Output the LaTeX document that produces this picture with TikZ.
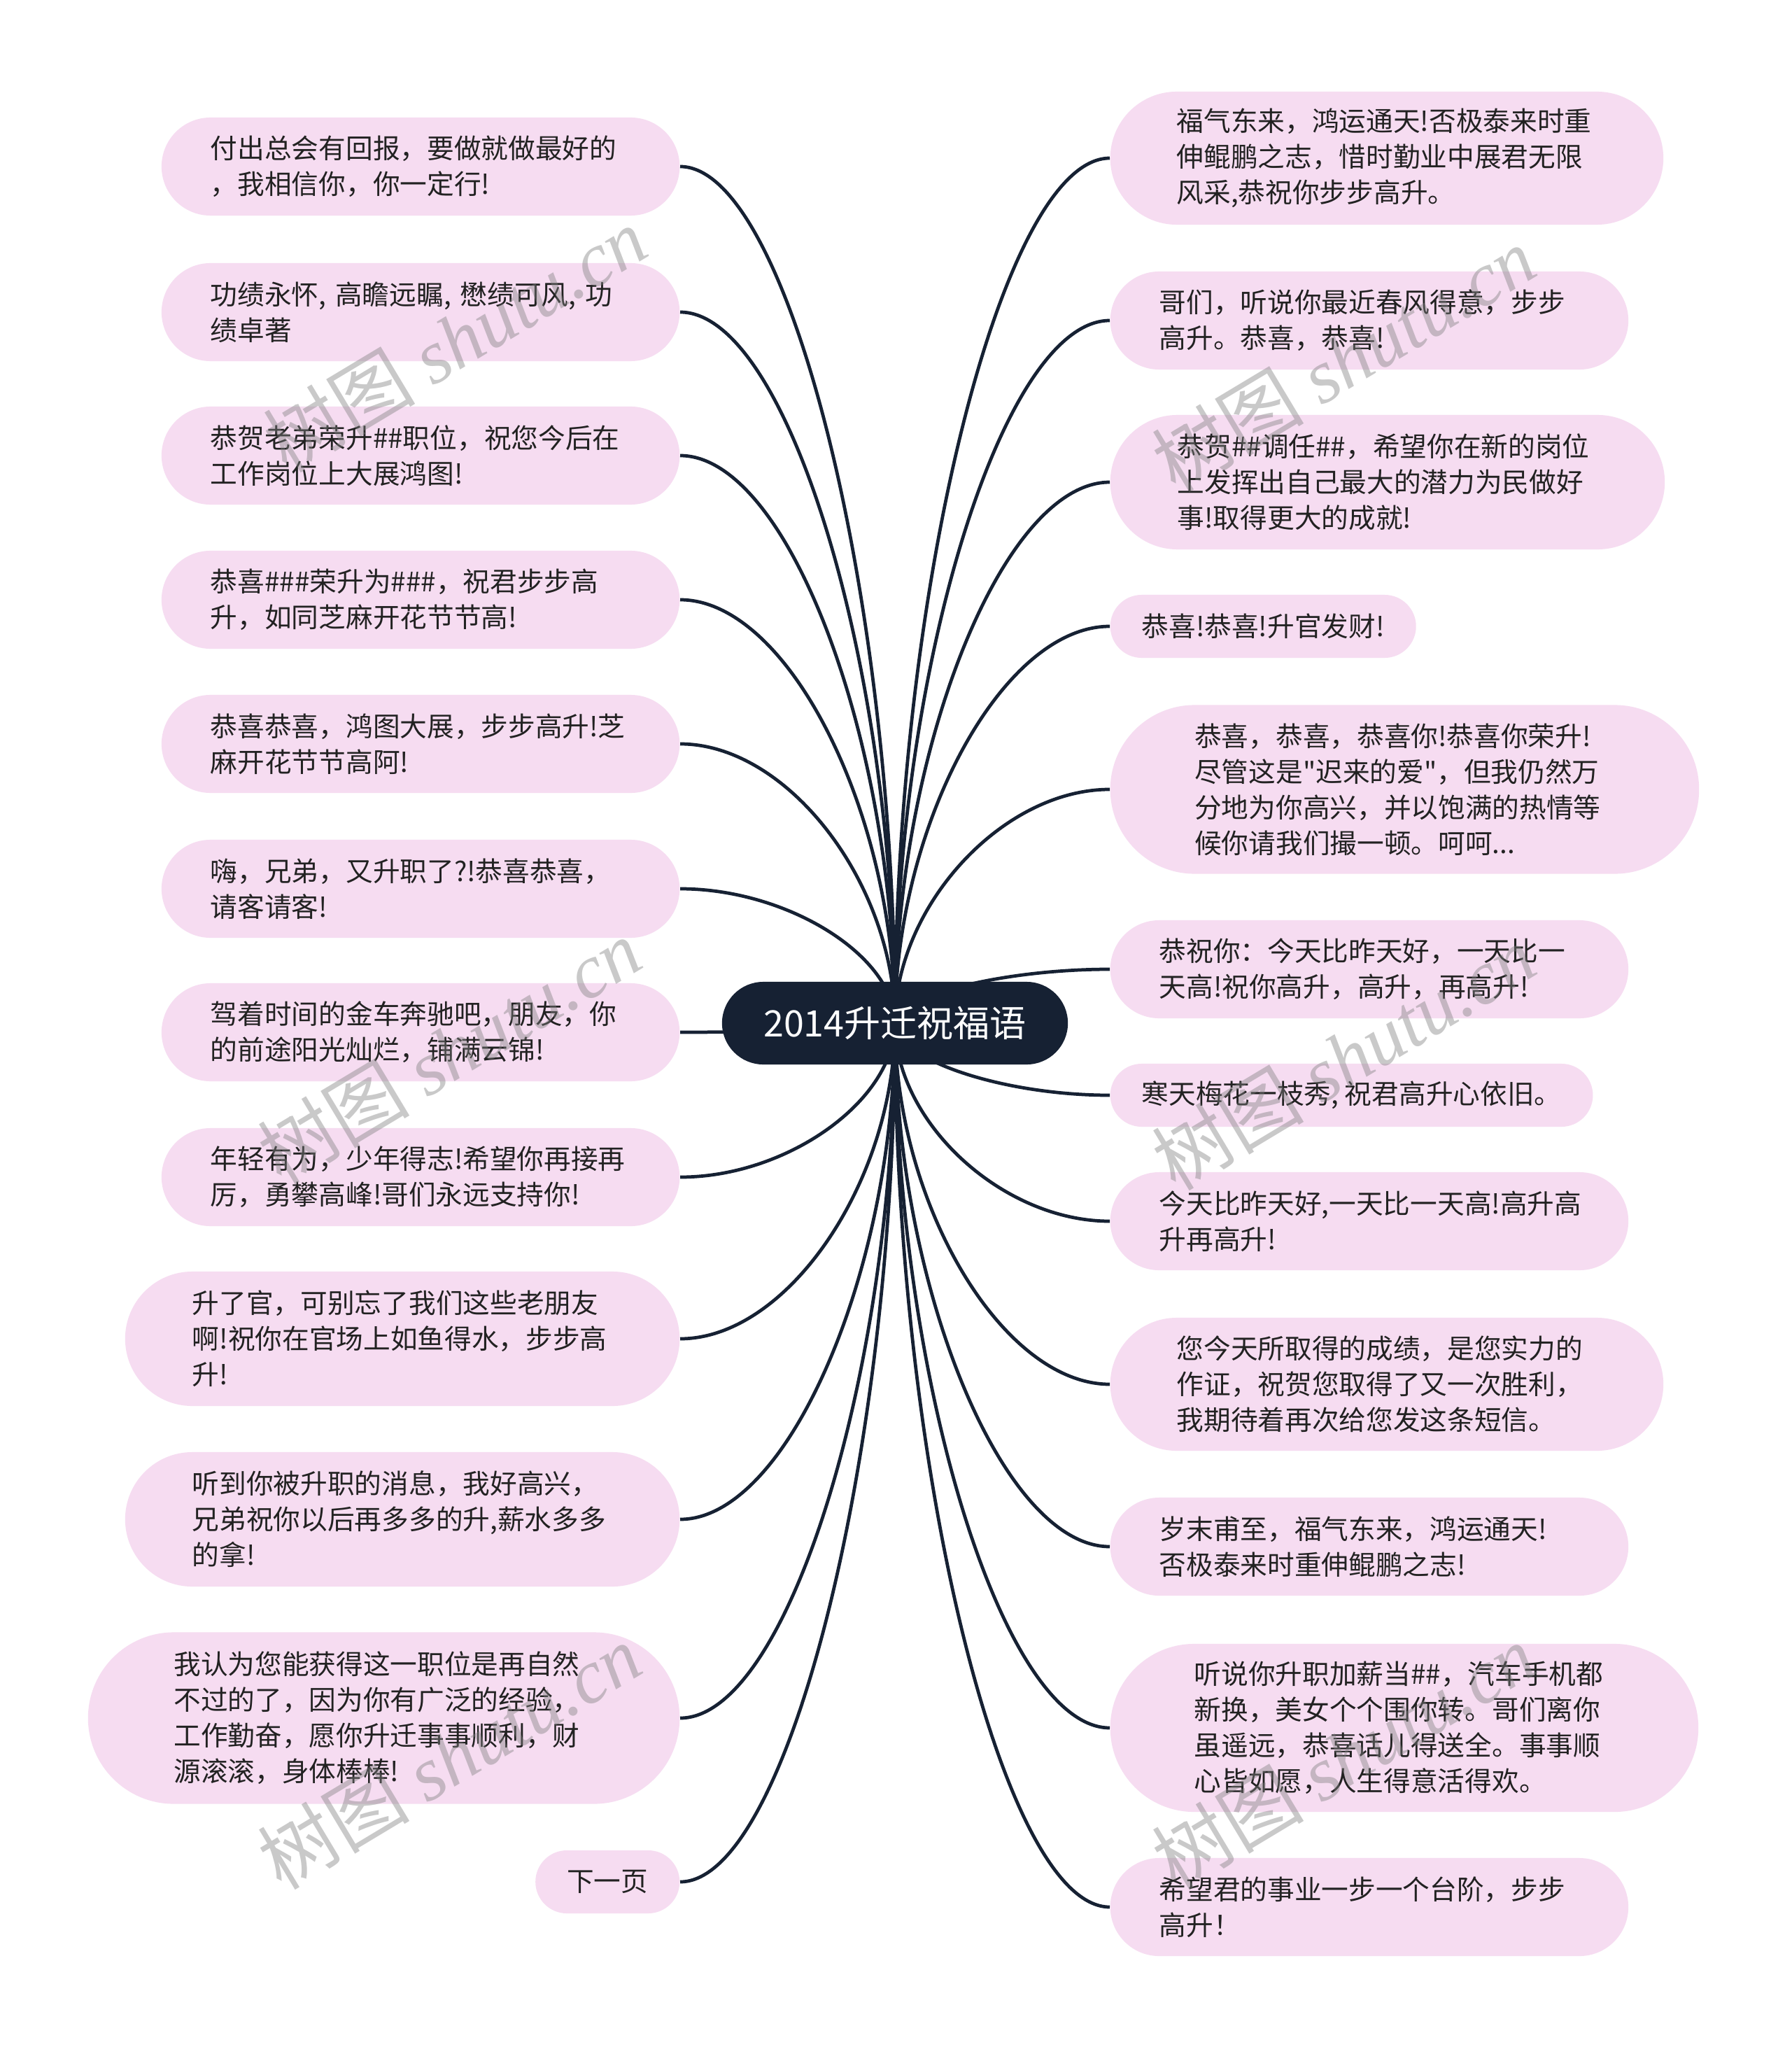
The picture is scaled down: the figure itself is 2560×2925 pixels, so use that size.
\documentclass[tikz,border=0pt]{standalone}
\usepackage{fontspec}
\setmainfont{Noto Sans CJK SC}[Ligatures=TeXOff]
\newfontfamily\wmfont{Liberation Serif}
\usetikzlibrary{calc}
\definecolor{leafpink}{RGB}{246,220,241}
\definecolor{navy}{RGB}{22,33,51}
\definecolor{txt}{RGB}{34,34,34}
\pgfdeclarelayer{back}
\pgfdeclarelayer{bg}
\pgfsetlayers{back,bg,main}
\begin{document}
\begin{tikzpicture}[x=0.01cm,y=-0.01cm,
  leaf/.style={fill=leafpink, text=txt, font=\fontsize{11pt}{14.5pt}\selectfont, align=left, inner ysep=0pt, minimum height=#1, inner xsep=#1/2, rounded corners=#1/2},
  wide/.style={text width=6cm},
  conn/.style={draw=navy, line width=1.35pt},
  rootbox/.style={fill=navy, text=white, font=\fontsize{14.8pt}{16pt}\selectfont, minimum width=4.94cm, minimum height=1.18cm, rounded corners=0.59cm, inner sep=0pt},
  wm/.style={text=gray, opacity=0.42, font=\fontsize{31pt}{31pt}\selectfont, rotate=31}
]
\begin{pgfonlayer}{back}
\fill[white] (0,0) rectangle (2560,2925);
\end{pgfonlayer}
\useasboundingbox (0,0) rectangle (2560,2925);

\node[rootbox] (root) at (1279,1462) {2014升迁祝福语};

% left
\node[leaf=1.4cm, wide, anchor=east] (L1) at (972,238) {付出总会有回报，要做就做最好的\\，我相信你，你一定行!};
\node[leaf=1.4cm, wide, anchor=east] (L2) at (972,446) {功绩永怀, 高瞻远瞩, 懋绩可风, 功\\绩卓著};
\node[leaf=1.4cm, wide, anchor=east] (L3) at (972,651) {恭贺老弟荣升\#\#职位，祝您今后在\\工作岗位上大展鸿图!};
\node[leaf=1.4cm, wide, anchor=east] (L4) at (972,857) {恭喜\#\#\#荣升为\#\#\#，祝君步步高\\升，如同芝麻开花节节高!};
\node[leaf=1.4cm, wide, anchor=east] (L5) at (972,1063) {恭喜恭喜，鸿图大展，步步高升!芝\\麻开花节节高阿!};
\node[leaf=1.4cm, wide, anchor=east] (L6) at (972,1270) {嗨，兄弟，又升职了?!恭喜恭喜，\\请客请客!};
\node[leaf=1.4cm, wide, anchor=east] (L7) at (972,1475) {驾着时间的金车奔驰吧，朋友，你\\的前途阳光灿烂，铺满云锦!};
\node[leaf=1.4cm, wide, anchor=east] (L8) at (972,1682) {年轻有为，少年得志!希望你再接再\\厉，勇攀高峰!哥们永远支持你!};
\node[leaf=1.92cm, wide, anchor=east] (L9) at (972,1913) {升了官，可别忘了我们这些老朋友\\啊!祝你在官场上如鱼得水，步步高\\升!};
\node[leaf=1.92cm, wide, anchor=east] (L10) at (972,2171) {听到你被升职的消息，我好高兴，\\兄弟祝你以后再多多的升,薪水多多\\的拿!};
\node[leaf=2.45cm, wide, anchor=east] (L11) at (972,2455) {我认为您能获得这一职位是再自然\\不过的了，因为你有广泛的经验，\\工作勤奋，愿你升迁事事顺利，财\\源滚滚，身体棒棒!};
\node[leaf=0.9cm, anchor=east] (L12) at (972,2689) {下一页};

% right
\node[leaf=1.9cm, wide, anchor=west] (R1) at (1586,226) {福气东来，鸿运通天!否极泰来时重\\伸鲲鹏之志，惜时勤业中展君无限\\风采,恭祝你步步高升。};
\node[leaf=1.4cm, wide, anchor=west] (R2) at (1586,458) {哥们，听说你最近春风得意，步步\\高升。恭喜，恭喜!};
\node[leaf=1.92cm, wide, anchor=west] (R3) at (1586,689) {恭贺\#\#调任\#\#，希望你在新的岗位\\上发挥出自己最大的潜力为民做好\\事!取得更大的成就!};
\node[leaf=0.9cm, anchor=west] (R4) at (1586,895) {恭喜!恭喜!升官发财!};
\node[leaf=2.41cm, wide, anchor=west] (R5) at (1586,1128) {恭喜，恭喜，恭喜你!恭喜你荣升!\\尽管这是"迟来的爱"，但我仍然万\\分地为你高兴，并以饱满的热情等\\候你请我们撮一顿。呵呵...};
\node[leaf=1.4cm, wide, anchor=west] (R6) at (1586,1385) {恭祝你：今天比昨天好，一天比一\\天高!祝你高升，高升，再高升!};
\node[leaf=0.9cm, anchor=west] (R7) at (1586,1565) {寒天梅花一枝秀, 祝君高升心依旧。};
\node[leaf=1.4cm, wide, anchor=west] (R8) at (1586,1745) {今天比昨天好,一天比一天高!高升高\\升再高升!};
\node[leaf=1.9cm, wide, anchor=west] (R9) at (1586,1978) {您今天所取得的成绩，是您实力的\\作证，祝贺您取得了又一次胜利，\\我期待着再次给您发这条短信。};
\node[leaf=1.4cm, wide, anchor=west] (R10) at (1586,2210) {岁末甫至，福气东来，鸿运通天!\\否极泰来时重伸鲲鹏之志!};
\node[leaf=2.4cm, wide, anchor=west] (R11) at (1586,2469) {听说你升职加薪当\#\#，汽车手机都\\新换，美女个个围你转。哥们离你\\虽遥远，恭喜话儿得送全。事事顺\\心皆如愿，人生得意活得欢。};
\node[leaf=1.4cm, wide, anchor=west] (R12) at (1586,2725) {希望君的事业一步一个台阶，步步\\高升！};

\begin{pgfonlayer}{bg}
\foreach \i in {1,...,12}{
  \draw[conn] (root.center) .. controls ($(root.center)!0.5!(root.center |- L\i.east)$) and ($(L\i.east)!0.5!(L\i.east -| root.center)$) .. (L\i.east);
  \draw[conn] (root.center) .. controls ($(root.center)!0.5!(root.center |- R\i.west)$) and ($(R\i.west)!0.5!(R\i.west -| root.center)$) .. (R\i.west);
}
\end{pgfonlayer}

% watermarks
\node[wm] (w1) at (650,485) {树图 {\wmfont\itshape shutu.cn}};
\node[wm] (w2) at (642,1502) {树图 {\wmfont\itshape shutu.cn}};
\node[wm] (w3) at (642,2510) {树图 {\wmfont\itshape shutu.cn}};
\node[wm] (w4) at (1920,513) {树图 {\wmfont\itshape shutu.cn}};
\node[wm] (w5) at (1920,1511) {树图 {\wmfont\itshape shutu.cn}};
\node[wm] (w6) at (1920,2510) {树图 {\wmfont\itshape shutu.cn}};
\end{tikzpicture}
\end{document}
